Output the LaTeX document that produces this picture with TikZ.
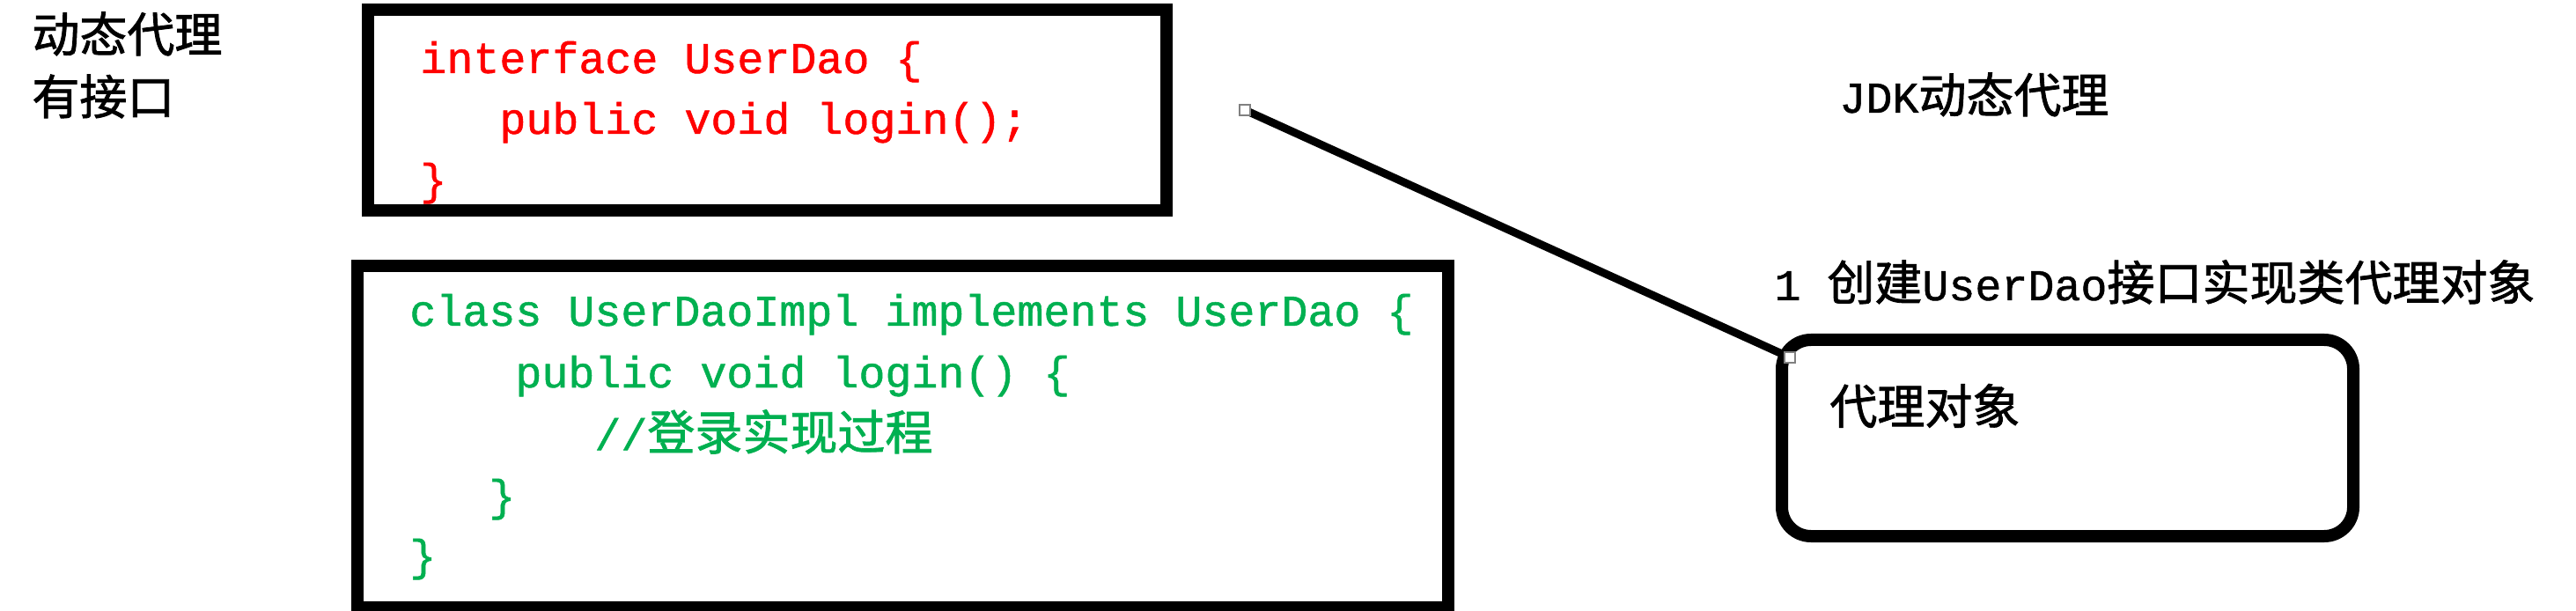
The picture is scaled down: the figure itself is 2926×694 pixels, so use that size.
\documentclass[tikz,border=0pt]{standalone}
\usepackage{fontspec}
\setmainfont[FakeBold=1]{Liberation Mono}
\newfontfamily\cjk[FakeBold=1.5]{Noto Sans CJK SC}
\newcommand\zh[1]{{\cjk\fontsize{27}{27}\selectfont #1}}
\definecolor{codered}{RGB}{255,0,0}
\definecolor{codegreen}{RGB}{0,176,80}
\begin{document}
\begin{tikzpicture}[x=0.5pt,y=-0.5pt,
  txt/.style={inner sep=0pt,anchor=base west,font=\fontsize{25}{25}\selectfont},
  zhtxt/.style={inner sep=0pt,anchor=west},
  redcode/.style={txt,text=codered},
  greencode/.style={txt,text=codegreen},
  frame/.style={draw=black,line width=7pt,inner sep=0pt},
  conn/.style={draw=black,line width=4.5pt},
  handle/.style={draw=gray,fill=white,line width=0.6pt,minimum size=6pt,inner sep=0pt}]
\useasboundingbox[fill=white] (0,0) rectangle (2926,694);

% labels top-left
\node[zhtxt] (t1) at (36,38.5) {\zh{动态代理}};
\node[zhtxt] (t2) at (36,109.5) {\zh{有接口}};

% interface box
\node[frame,minimum width=453.5pt,minimum height=114pt] (b1) at (871.5,125) {};
\node[redcode] (i1) at (477,83) {interface UserDao \{};
\node[redcode] (i2) at (567,152) {public void login();};
\node[redcode] (i3) at (477,221) {\}};

% implementation box
\node[frame,minimum width=619.5pt,minimum height=194pt] (b2) at (1025.5,496) {};
\node[greencode] (c1) at (465,370) {class UserDaoImpl implements UserDao \{};
\node[greencode] (c2) at (585,440) {public void login() \{};
\node[greencode] (c3) at (675,511) {//\zh{登录实现过程}};
\node[greencode] (c4) at (555,580) {\}};
\node[greencode] (c5) at (465,648) {\}};

% right side
\node[txt] (jdk) at (2089,128) {JDK\zh{动态代理}};
\node[txt] (step1) at (2015,341) {1 \zh{创建}UserDao\zh{接口实现类代理对象}};
\node[frame,rounded corners=16.5pt,minimum width=324.5pt,minimum height=111.5pt] (proxy) at (2348.5,497.5) {};
\node[zhtxt] (proxylbl) at (2078,461) {\zh{代理对象}};

% connector
\coordinate (ls) at (1414,125);
\coordinate (le) at (2033,406);
\draw[conn] (ls) -- (le);
\node[handle] (h1) at (ls) {};
\node[handle] (h2) at (le) {};
\end{tikzpicture}
\end{document}
